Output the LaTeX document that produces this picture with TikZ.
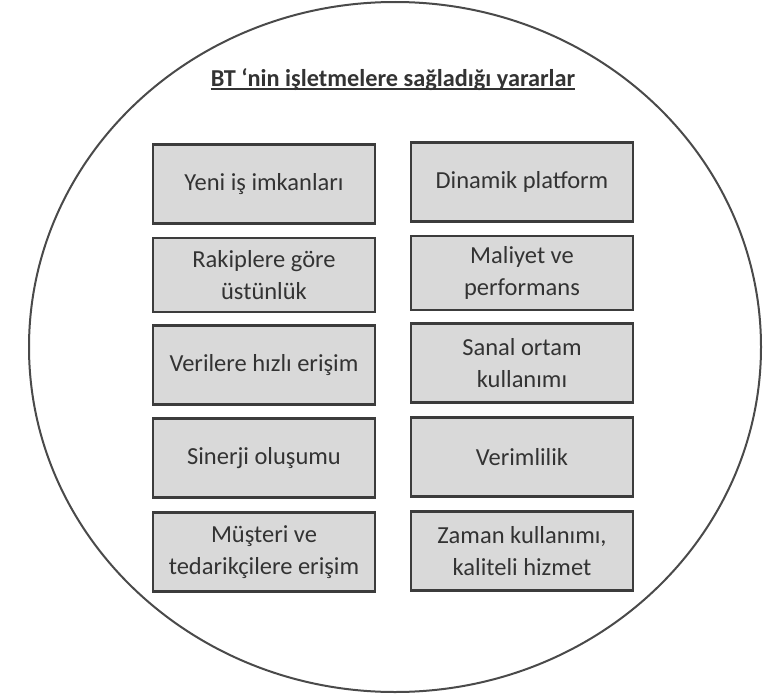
\documentclass[tikz,border=0pt]{standalone}
\usepackage{fontspec}
\setmainfont{Carlito}
\definecolor{boxfill}{HTML}{D9D9D9}
\definecolor{boxline}{HTML}{3C3C3C}
\definecolor{txt}{HTML}{333333}
\definecolor{ring}{HTML}{4A4A4A}
\begin{document}
\begin{tikzpicture}[x=1pt,y=-1pt,
  benefit/.style={draw=boxline, line width=2.2pt, fill=boxfill, minimum width=222pt,
    minimum height=79pt, align=center, text=txt, inner sep=0pt,
    font=\fontsize{24.5}{32}\selectfont},
  titletext/.style={text=txt, font=\bfseries\fontsize{24.3}{28}\selectfont, inner sep=0pt, anchor=base},
  uline/.style={draw=txt, line width=1.4pt}]
\useasboundingbox (0,0) rectangle (763,696);
\draw[ring, line width=2pt] (395,347) ellipse [x radius=366, y radius=345];
\node[titletext] (title) at (393,86) {BT ‘nin işletmelere sağladığı yararlar};
\draw[uline] ([yshift=-3pt]title.base west) -- ([yshift=-3pt]title.base east);
% left column
\node[benefit] (l1) at (264,184) {Yeni iş imkanları};
\node[benefit, minimum height=74pt] (l2) at (264,275) {Rakiplere göre\\üstünlük};
\node[benefit] (l3) at (264,365) {Verilere hızlı erişim};
\node[benefit] (l4) at (264,458) {Sinerji oluşumu};
\node[benefit] (l5) at (264,552) {Müşteri ve\\tedarikçilere erişim};
% right column
\node[benefit] (r1) at (522,182) {Dinamik platform};
\node[benefit, minimum height=74pt] (r2) at (522,273) {Maliyet ve\\performans};
\node[benefit] (r3) at (522,363) {Sanal ortam\\kullanımı};
\node[benefit] (r4) at (522,457) {Verimlilik};
\node[benefit] (r5) at (522,551) {Zaman kullanımı,\\kaliteli hizmet};
\end{tikzpicture}
\end{document}
